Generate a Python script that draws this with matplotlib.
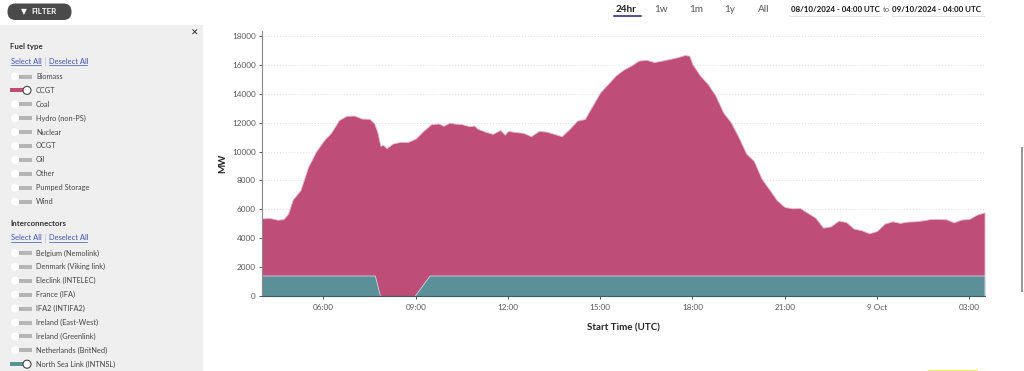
import matplotlib
matplotlib.use("Agg")
import matplotlib.pyplot as plt
from matplotlib.patches import Rectangle, FancyBboxPatch, Circle

plt.rcParams['font.family'] = ['Lato', 'DejaVu Sans']

# hours since 00:00 on 8 Oct
top_hours = [4, 4.25, 4.5, 4.7, 4.85, 5, 5.25, 5.5, 5.75, 6, 6.25, 6.5, 6.75, 7, 7.25, 7.5, 7.65, 7.75, 7.85, 7.95,
             8.05, 8.25, 8.5, 8.75, 9, 9.25, 9.5, 9.75, 9.9, 10.1, 10.25, 10.5, 10.75, 10.9, 11, 11.25, 11.5, 11.75,
             11.9, 12, 12.25, 12.5, 12.75, 13, 13.25, 13.5, 13.75, 14, 14.25, 14.5, 14.75, 15, 15.25, 15.5, 15.75,
             16, 16.25, 16.5, 16.75, 17, 17.25, 17.5, 17.75, 17.9, 18, 18.25, 18.5, 18.75, 19, 19.25, 19.5, 19.75,
             20, 20.25, 20.5, 20.75, 21, 21.25, 21.5, 21.75, 22, 22.25, 22.5, 22.75, 23, 23.25, 23.5, 23.75, 24,
             24.25, 24.5, 24.75, 25, 25.25, 25.5, 25.75, 26, 26.25, 26.5, 26.75, 27, 27.25, 27.5]
top_mw = [5370, 5400, 5280, 5320, 5700, 6680, 7330, 8940, 9980, 10740, 11310, 12170, 12470, 12490, 12280, 12260, 11950,
          11360, 10400, 10450, 10230, 10550, 10670, 10670, 10900, 11430, 11890, 11940, 11780, 12000, 11940, 11890,
          11750, 11800, 11590, 11380, 11220, 11490, 11170, 11420, 11350, 11290, 11060, 11420, 11380, 11220, 11060,
          11560, 12140, 12250, 13180, 14100, 14670, 15250, 15660, 15940, 16290, 16350, 16190, 16290, 16400, 16520,
          16680, 16630, 16050, 15250, 14670, 13870, 12710, 12020, 11000, 9850, 9340, 8120, 7380, 6620, 6160, 6070,
          6090, 5750, 5420, 4730, 4820, 5220, 5120, 4660, 4550, 4340, 4500, 5010, 5170, 5060, 5150, 5170, 5240, 5330,
          5330, 5310, 5100, 5290, 5330, 5630, 5790]

nsl_hours = [4, 7.67, 7.84, 8.96, 9.45, 27.5]
nsl_mw = [1420, 1420, 0, 0, 1420, 1420]

x_ticks = [6, 9, 12, 15, 18, 21, 24, 27]
x_labels = ["06:00", "09:00", "12:00", "15:00", "18:00", "21:00", "9 Oct", "03:00"]
y_ticks = list(range(0, 18001, 2000))

fuel_types = ["Biomass", "CCGT", "Coal", "Hydro (non-PS)", "Nuclear", "OCGT", "Oil", "Other", "Pumped Storage", "Wind"]
interconnectors = ["Belgium (Nemolink)", "Denmark (Viking link)", "Eleclink (INTELEC)", "France (IFA)", "IFA2 (INTIFA2)",
                   "Ireland (East-West)", "Ireland (Greenlink)", "Netherlands (BritNed)", "North Sea Link (INTNSL)"]
periods = ["24hr", "1w", "1m", "1y", "All"]

PINK = "#BE4D78"
TEAL = "#5B9099"
W, H = 1024, 371

fig = plt.figure(figsize=(W / 100, H / 100), dpi=100)

# page furniture, drawn in pixel coordinates
page = fig.add_axes([0, 0, 1, 1])
page.set_xlim(0, W)
page.set_ylim(H, 0)
page.axis("off")


def toggle(y, label, color=None):
    if color:
        page.add_patch(Rectangle((10, y - 2), 17, 4, color=color, lw=0))
        page.add_patch(Circle((27, y), 4, fc="white", ec="#444444", lw=0.8, zorder=3))
    else:
        page.add_patch(Rectangle((19, y - 2), 13, 4, color="#B5B5B5", lw=0))
        page.add_patch(Circle((15, y), 4, fc="white", ec="none", zorder=3))
    page.text(36, y, label, fontsize=5.35, color="#444444", va="center")


def select_links(y):
    page.text(11, y, "Select All", fontsize=5.4, color="#3A55B4", va="center")
    page.plot([11, 41], [y + 4, y + 4], color="#3A55B4", lw=0.5)
    page.plot([44.5, 44.5], [y - 4, y + 4], color="#CCCCCC", lw=0.6)
    page.text(49, y, "Deselect All", fontsize=5.4, color="#3A55B4", va="center")
    page.plot([49, 87], [y + 4, y + 4], color="#3A55B4", lw=0.5)


page.add_patch(Rectangle((0, 25), 203, H - 25, color="#EFEFEF", lw=0))
page.add_patch(FancyBboxPatch((7.5, 3.5), 64, 16.5, boxstyle="round,pad=0,rounding_size=8",
                              fc="#4A4A4A", ec="none"))
page.text(24, 12, "\u25BC", fontsize=5.5, color="white", ha="center", va="center", family="DejaVu Sans")
page.text(31, 12, "FILTER", fontsize=5.8, color="white", weight="bold", va="center")
page.text(194.5, 33.5, "\u2715", fontsize=6.5, color="#222222", ha="center", va="center",
          weight="bold", family="DejaVu Sans")

page.text(10, 47, "Fuel type", fontsize=5.7, color="#333333", weight="bold", va="center")
select_links(61)
for i, name in enumerate(fuel_types):
    toggle(76.5 + 13.9 * i, name, PINK if name == "CCGT" else None)

page.text(10, 223, "Interconnectors", fontsize=5.7, color="#333333", weight="bold", va="center")
select_links(237.5)
for i, name in enumerate(interconnectors):
    toggle(253 + 13.9 * i, name, TEAL if "INTNSL" in name else None)

# range buttons and dates
for name, x in zip(periods, [626.5, 661, 696, 730, 764]):
    page.text(x, 10, name, fontsize=7.2, color="#222222" if name == "24hr" else "#555555", ha="center", va="center",
              weight="bold" if name == "24hr" else "normal")
page.plot([614, 640.5], [16, 16], color="#1F1F8F", lw=1.1)
page.text(791, 9.5, "08/10/2024 - 04:00 UTC", fontsize=5.65, color="#111111", weight="bold", va="center")
page.text(886, 10, "to", fontsize=5.4, color="#555555", ha="center", va="center")
page.text(892, 9.5, "09/10/2024 - 04:00 UTC", fontsize=5.65, color="#111111", weight="bold", va="center")
page.plot([789, 882], [16, 16], color="#E4E4E4", lw=0.7)
page.plot([892, 984], [16, 16], color="#E4E4E4", lw=0.7)

page.add_patch(Rectangle((1020.5, 147), 2, 145, color="#9A9A9A", lw=0))
page.add_patch(Rectangle((928, 370), 50, 1, color="#FFE94D", lw=0))

# chart
ax = fig.add_axes([262 / W, 1 - 296 / H, (984.5 - 262) / W, (296 - 31) / H])
ax.patch.set_alpha(0)
ax.fill_between(top_hours, 0, top_mw, color=PINK, lw=0.6, ec="#E9B9CB", zorder=2)
ax.fill_between(nsl_hours, 0, nsl_mw, color=TEAL, lw=0.6, ec="#C6DADE", zorder=3)
ax.set_xlim(4, 27.5)
ax.set_ylim(0, 18340)
ax.set_xticks(x_ticks, x_labels)
ax.set_yticks(y_ticks)
ax.grid(axis="y", color="#DDDDD5", linestyle=(0, (1, 2)), lw=0.7, zorder=1)
ax.tick_params(axis="both", labelsize=5.9, labelcolor="#555555", length=2.5, width=0.7, color="#555555", pad=2)
ax.tick_params(axis="x", pad=3)
for side in ["top", "right"]:
    ax.spines[side].set_visible(False)
ax.spines["left"].set_color("#888888")
ax.spines["bottom"].set_color("#3F5A60")
ax.spines["left"].set_zorder(5)
ax.spines["bottom"].set_zorder(5)

page.text(223, 163, "MW", fontsize=7, color="#222222", weight="bold", rotation=90, ha="center", va="center")
page.text(623, 328, "Start Time (UTC)", fontsize=7, color="#222222", weight="bold", ha="center", va="center")

fig.savefig("out.png", dpi=100)
